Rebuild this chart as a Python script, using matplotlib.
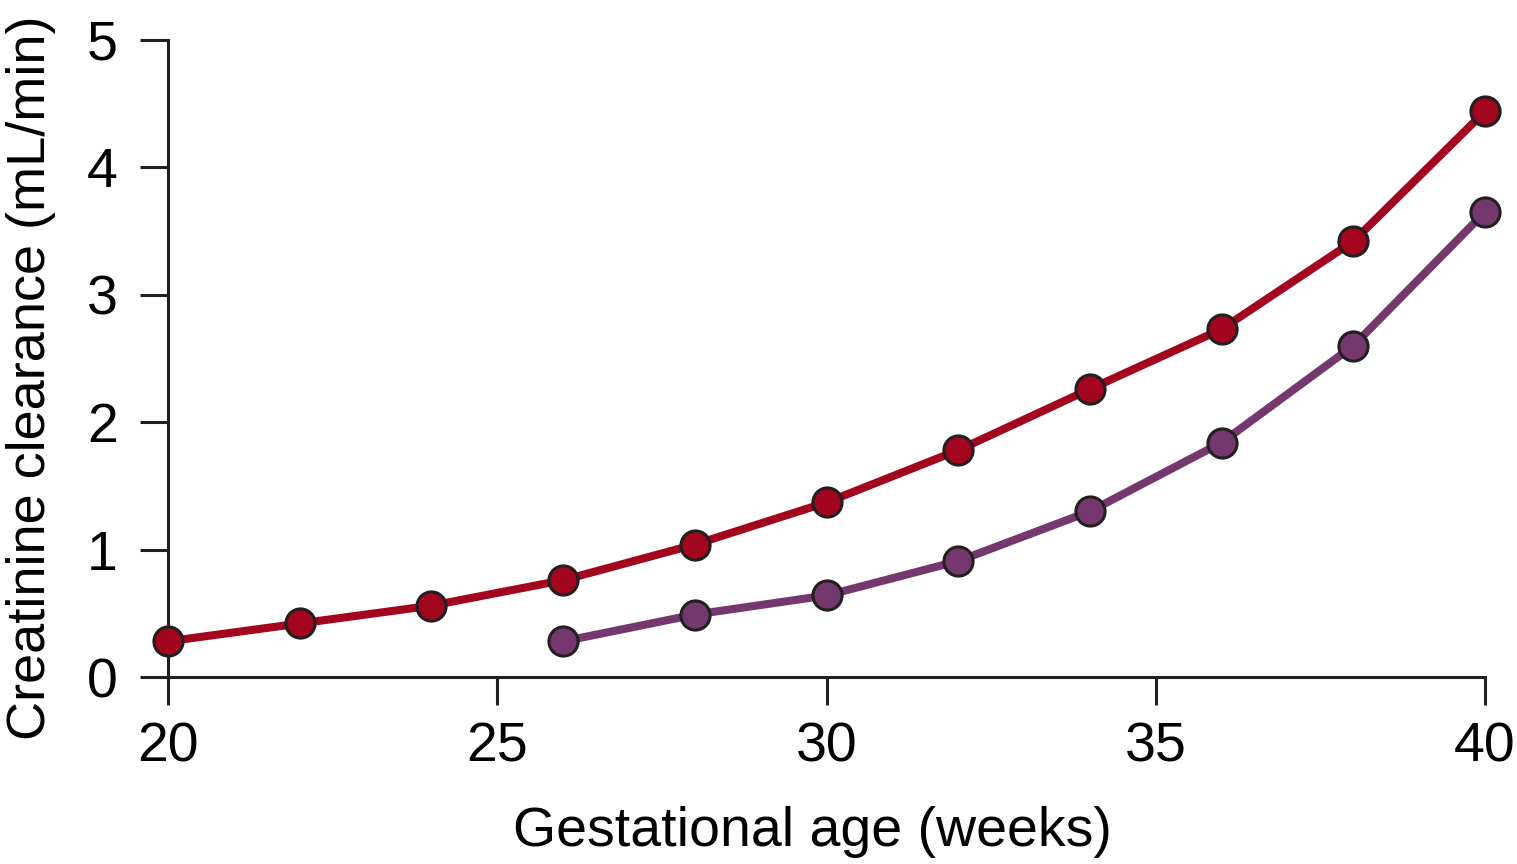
import matplotlib
matplotlib.use("Agg")
import matplotlib.pyplot as plt

weeks_red = [20, 22, 24, 26, 28, 30, 32, 34, 36, 38, 40]
clear_red = [0.28, 0.42, 0.56, 0.76, 1.04, 1.37, 1.78, 2.26, 2.73, 3.42, 4.44]
weeks_purple = [26, 28, 30, 32, 34, 36, 38, 40]
clear_purple = [0.28, 0.49, 0.64, 0.91, 1.30, 1.84, 2.60, 3.65]
xticks = [20, 25, 30, 35, 40]
yticks = [0, 1, 2, 3, 4, 5]

plt.rcParams['font.family'] = ['Liberation Sans', 'DejaVu Sans']

fig = plt.figure(figsize=(15.17, 8.64), dpi=100)
ax = fig.add_axes([168/1517, 1-677/864, (1485-168)/1517, (677-40)/864])

common = dict(lw=5.8, marker='o', ms=21, mew=2.2, mec='#231f20', clip_on=False, zorder=3)
ax.plot(weeks_red, clear_red, color='#a3041e', mfc='#a3041e', **common)
ax.plot(weeks_purple, clear_purple, color='#74386f', mfc='#74386f', **common)

ax.set_xlim(20, 40)
ax.set_ylim(0, 5)
ax.set_xticks(xticks)
ax.set_yticks(yticks)
for s in ['top', 'right']:
    ax.spines[s].set_visible(False)
for s in ['left', 'bottom']:
    ax.spines[s].set_linewidth(2.2)
    ax.spines[s].set_color('#231f20')
ax.tick_params(axis='both', direction='out', length=20, width=2.2, color='#231f20', labelsize=40)
ax.tick_params(axis='x', pad=12)
ax.tick_params(axis='y', pad=16)

fig.text(812/1517, 1-832/864, 'Gestational age (weeks)', fontsize=40, ha='center', va='center')
fig.text(31/1517, 1-378/864, 'Creatinine clearance (mL/min)', fontsize=39, rotation=90,
         ha='center', va='center')

fig.savefig('out.png', dpi=100)
